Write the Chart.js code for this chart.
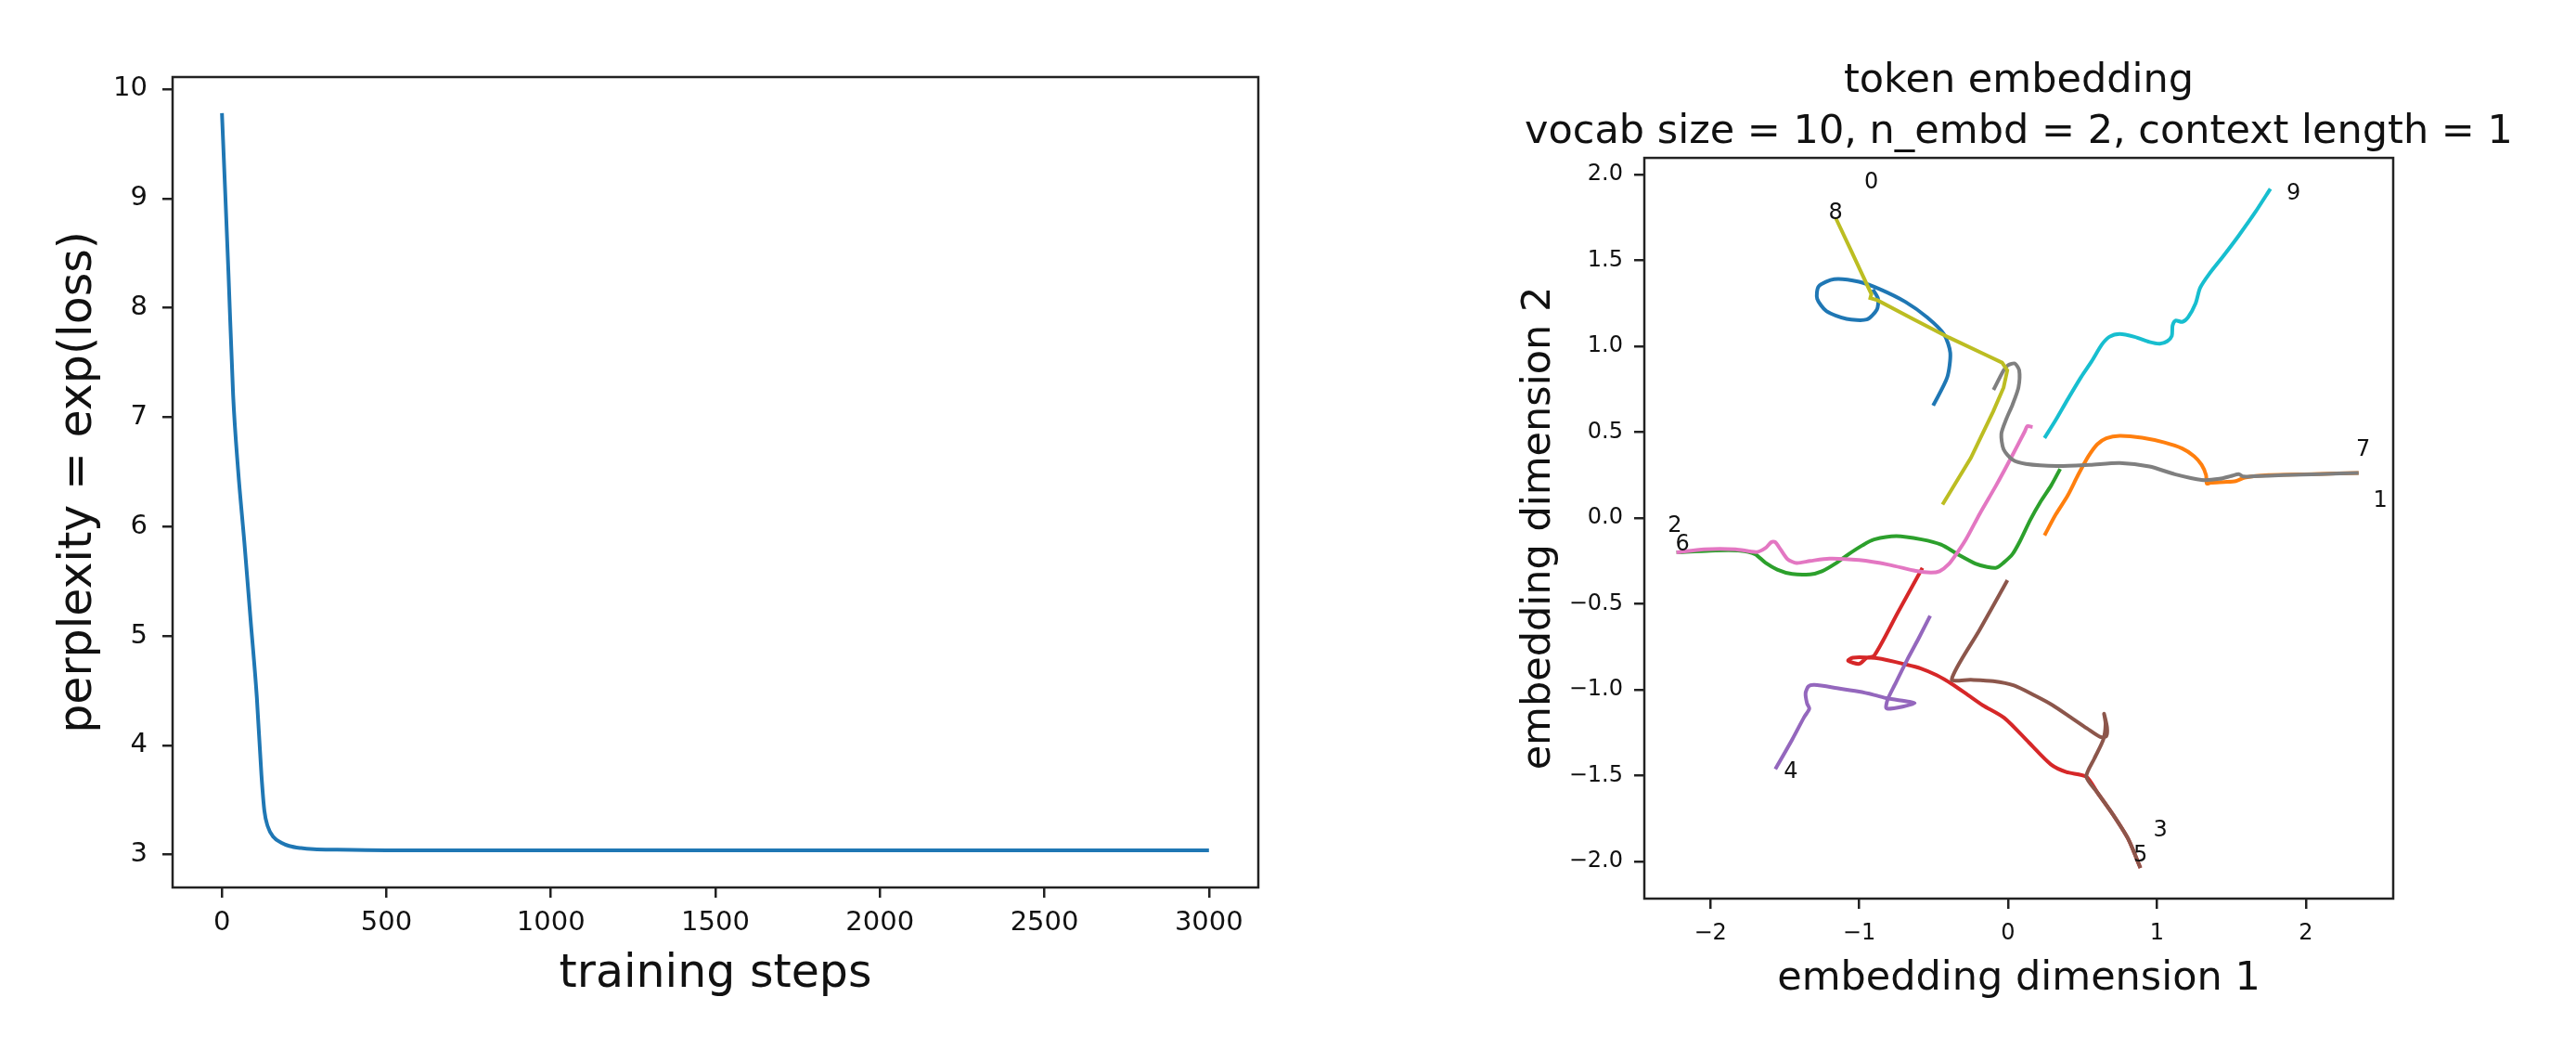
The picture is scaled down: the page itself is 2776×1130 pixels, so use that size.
<!DOCTYPE html>
<html>
<head>
<meta charset="utf-8">
<script src="https://cdn.jsdelivr.net/npm/chart.js@4"></script>
<style>
  body { margin: 0; background: #fff; width: 2776px; height: 1130px; overflow: hidden; position: relative; }
  canvas { position: absolute; top: 0; }
  #lossChart { left: 0; width: 1480px; height: 1130px; }
  #embChart { left: 1480px; width: 1391px; height: 1130px; }
</style>
</head>
<body>
<canvas id="lossChart" width="1480" height="1130"></canvas>
<canvas id="embChart" width="1391" height="1130"></canvas>
<script>
// left panel: perplexity during training
const steps = [0, 10, 20, 34, 49, 68, 87, 106, 120, 129, 139, 157, 180, 204, 240, 279, 350, 500, 1000, 1500, 2000, 2500, 3000];
const perplexity = [9.78, 9.05, 8.30, 7.20, 6.52, 5.86, 5.15, 4.44, 3.73, 3.40, 3.26, 3.16, 3.11, 3.08, 3.06, 3.05, 3.045, 3.04, 3.04, 3.04, 3.04, 3.04, 3.04];
const stepTicks = [0, 500, 1000, 1500, 2000, 2500, 3000];
const perplexityTicks = [3, 4, 5, 6, 7, 8, 9, 10];

// right panel: embedding trajectories, one per token
const emb0 = [[-0.503, 0.655], [-0.409, 0.818], [-0.388, 0.962], [-0.430, 1.070], [-0.544, 1.169], [-0.690, 1.259], [-0.856, 1.331], [-1.001, 1.376], [-1.168, 1.391], [-1.272, 1.349], [-1.282, 1.277], [-1.220, 1.205], [-1.085, 1.160], [-0.949, 1.156], [-0.881, 1.214], [-0.873, 1.277], [-0.908, 1.331]];
const emb1 = [[0.245, -0.101], [0.32, 0.02], [0.40, 0.13], [0.47, 0.25], [0.54, 0.36], [0.60, 0.43], [0.66, 0.465], [0.75, 0.479], [0.90, 0.468], [1.05, 0.44], [1.17, 0.405], [1.25, 0.36], [1.30, 0.31], [1.33, 0.25], [1.335, 0.20], [1.36, 0.205], [1.45, 0.21], [1.53, 0.215], [1.59, 0.235], [1.75, 0.250], [2.05, 0.256], [2.355, 0.263]];
const emb2 = [[0.35, 0.286], [0.29, 0.19], [0.22, 0.097], [0.15, -0.01], [0.08, -0.135], [0.03, -0.21], [-0.03, -0.26], [-0.08, -0.29], [-0.14, -0.285], [-0.22, -0.265], [-0.34, -0.21], [-0.45, -0.155], [-0.58, -0.125], [-0.75, -0.105], [-0.90, -0.125], [-0.98, -0.16], [-1.07, -0.21], [-1.15, -0.26], [-1.25, -0.31], [-1.33, -0.328], [-1.45, -0.326], [-1.55, -0.30], [-1.63, -0.26], [-1.70, -0.21], [-1.80, -0.19], [-2.00, -0.19], [-2.227, -0.20]];
const emb3 = [[-0.575, -0.29], [-0.74, -0.55], [-0.898, -0.80], [-0.95, -0.815], [-1.00, -0.849], [-1.074, -0.831], [-1.043, -0.813], [-0.95, -0.812], [-0.85, -0.82], [-0.70, -0.85], [-0.586, -0.876], [-0.48, -0.915], [-0.378, -0.966], [-0.27, -1.03], [-0.17, -1.09], [-0.025, -1.164], [0.141, -1.308], [0.287, -1.434], [0.391, -1.479], [0.526, -1.506], [0.599, -1.597], [0.702, -1.723], [0.806, -1.867], [0.889, -2.038]];
const emb4 = [[-0.523, -0.569], [-0.60, -0.70], [-0.68, -0.83], [-0.76, -0.97], [-0.81, -1.06], [-0.815, -1.11], [-0.627, -1.078], [-0.81, -1.05], [-0.90, -1.03], [-1.00, -1.011], [-1.15, -0.99], [-1.30, -0.972], [-1.34, -0.98], [-1.36, -1.02], [-1.35, -1.08], [-1.335, -1.11], [-1.37, -1.16], [-1.45, -1.29], [-1.563, -1.462]];
const emb5 = [[-0.004, -0.362], [-0.19, -0.65], [-0.378, -0.939], [-0.25, -0.942], [-0.10, -0.95], [0.04, -0.975], [0.183, -1.035], [0.30, -1.09], [0.42, -1.16], [0.53, -1.225], [0.62, -1.275], [0.66, -1.27], [0.665, -1.22], [0.645, -1.14], [0.655, -1.20], [0.64, -1.29], [0.58, -1.40], [0.526, -1.506], [0.599, -1.597], [0.702, -1.723], [0.806, -1.867], [0.889, -2.038]];
const emb6 = [[0.165, 0.53], [0.13, 0.535], [0.11, 0.50], [0.02, 0.35], [-0.08, 0.19], [-0.19, 0.025], [-0.28, -0.12], [-0.34, -0.20], [-0.40, -0.27], [-0.46, -0.31], [-0.52, -0.318], [-0.62, -0.308], [-0.80, -0.272], [-1.00, -0.245], [-1.20, -0.236], [-1.33, -0.25], [-1.42, -0.262], [-1.48, -0.24], [-1.53, -0.18], [-1.565, -0.14], [-1.59, -0.14], [-1.63, -0.175], [-1.69, -0.198], [-1.83, -0.182], [-2.04, -0.182], [-2.227, -0.20]];
const emb7 = [[-0.098, 0.746], [-0.03, 0.86], [0.0, 0.89], [0.045, 0.90], [0.075, 0.86], [0.07, 0.76], [0.03, 0.66], [-0.01, 0.58], [-0.045, 0.49], [-0.03, 0.40], [0.03, 0.34], [0.12, 0.315], [0.33, 0.303], [0.55, 0.31], [0.75, 0.32], [0.95, 0.30], [1.12, 0.255], [1.30, 0.222], [1.42, 0.228], [1.50, 0.245], [1.55, 0.255], [1.58, 0.242], [1.65, 0.243], [1.85, 0.250], [2.10, 0.256], [2.355, 0.263]];
const emb8 = [[-1.157, 1.746], [-1.05, 1.55], [-0.918, 1.304], [-0.925, 1.28], [-0.877, 1.268], [-0.64, 1.16], [-0.399, 1.052], [-0.15, 0.95], [-0.04, 0.905], [-0.005, 0.86], [-0.03, 0.76], [-0.10, 0.62], [-0.25, 0.35], [-0.44, 0.079]];
const emb9 = [[0.245, 0.466], [0.32, 0.57], [0.40, 0.69], [0.49, 0.82], [0.56, 0.91], [0.63, 1.01], [0.68, 1.055], [0.75, 1.072], [0.85, 1.055], [0.95, 1.025], [1.02, 1.015], [1.07, 1.03], [1.10, 1.06], [1.105, 1.12], [1.125, 1.15], [1.17, 1.142], [1.21, 1.17], [1.26, 1.25], [1.29, 1.34], [1.35, 1.42], [1.45, 1.53], [1.55, 1.645], [1.66, 1.78], [1.762, 1.917]];

const tokenLabels = ['0', '1', '2', '3', '4', '5', '6', '7', '8', '9'];
const labelX = [-0.918, 2.50, -2.238, 1.024, -1.459, 0.889, -2.186, 2.386, -1.158, 1.918];
const labelY = [1.953, 0.097, -0.047, -1.822, -1.479, -1.966, -0.155, 0.395, 1.773, 1.890];
const dimTicks1 = [-2, -1, 0, 1, 2];
const dimTicks2 = [-2.0, -1.5, -1.0, -0.5, 0.0, 0.5, 1.0, 1.5, 2.0];

const tab10 = ['#1f77b4', '#ff7f0e', '#2ca02c', '#d62728', '#9467bd', '#8c564b', '#e377c2', '#7f7f7f', '#bcbd22', '#17becf'];
const paths = [emb0, emb1, emb2, emb3, emb4, emb5, emb6, emb7, emb8, emb9];

Chart.defaults.font.family = 'DejaVu Sans';
Chart.defaults.color = '#111';

const frame = {
    id: 'frame',
    afterDatasetsDraw(chart) {
        const { ctx, chartArea: a } = chart;
        ctx.save();
        ctx.strokeStyle = '#222';
        ctx.lineWidth = 2.5;
        ctx.strokeRect(a.left, a.top, a.right - a.left, a.bottom - a.top);
        ctx.restore();
    }
};

const tokenText = {
    id: 'tokenText',
    afterDatasetsDraw(chart) {
        const { ctx, scales: { x, y } } = chart;
        ctx.save();
        ctx.font = '24px "DejaVu Sans"';
        ctx.fillStyle = '#111';
        ctx.textAlign = 'center';
        ctx.textBaseline = 'middle';
        tokenLabels.forEach((t, i) => {
            ctx.fillText(t, x.getPixelForValue(labelX[i]), y.getPixelForValue(labelY[i]));
        });
        ctx.restore();
    }
};

const tickGrid = { drawOnChartArea: false, drawTicks: true, tickLength: 11, color: '#222', lineWidth: 2.5 };
const minus = v => (v < 0 ? '\u2212' : '') + Math.abs(v);

new Chart(document.getElementById('lossChart'), {
    type: 'scatter',
    data: {
        datasets: [{
            data: steps.map((s, i) => ({ x: s, y: perplexity[i] })),
            showLine: true,
            borderColor: '#1f77b4',
            borderWidth: 4,
            pointRadius: 0,
            cubicInterpolationMode: 'monotone'
        }]
    },
    options: {
        responsive: false,
        animation: false,
        layout: { padding: { left: 0, top: 83, right: 124, bottom: 0 } },
        plugins: { legend: { display: false }, tooltip: { enabled: false } },
        scales: {
            x: {
                type: 'linear', min: -150, max: 3150,
                afterBuildTicks: s => { s.ticks = stepTicks.map(v => ({ value: v })); },
                afterFit: s => { s.height = 174; },
                ticks: { font: { size: 29 }, padding: 10, maxRotation: 0, autoSkip: false, callback: v => String(v) },
                grid: tickGrid,
                border: { display: false },
                title: { display: true, text: 'training steps', font: { size: 49 }, padding: { top: 0, bottom: 50 } }
            },
            y: {
                type: 'linear', min: 2.70, max: 10.11,
                afterBuildTicks: s => { s.ticks = perplexityTicks.map(v => ({ value: v })); },
                afterFit: s => { s.width = 186; },
                ticks: { font: { size: 29 }, padding: 16, autoSkip: false, callback: v => String(v) },
                grid: tickGrid,
                border: { display: false },
                title: { display: true, text: 'perplexity = exp(loss)', font: { size: 49 }, padding: { top: 56, bottom: 0 } }
            }
        }
    },
    plugins: [frame]
});

new Chart(document.getElementById('embChart'), {
    type: 'scatter',
    data: {
        datasets: paths.map((p, i) => ({
            data: p.map(([x, y]) => ({ x, y })),
            showLine: true,
            borderColor: tab10[i],
            borderWidth: 4,
            pointRadius: 0,
            tension: (i === 8) ? 0 : 0.25,
            order: 9 - i
        }))
    },
    options: {
        responsive: false,
        animation: false,
        layout: { padding: { left: 0, top: 60, right: 0, bottom: 0 } },
        plugins: {
            legend: { display: false },
            tooltip: { enabled: false },
            title: {
                display: true,
                text: ['token embedding', 'vocab size = 10, n_embd = 2, context length = 1'],
                font: { size: 43, weight: 'normal', lineHeight: 1.28 },
                color: '#111',
                padding: { top: 0, bottom: 0 }
            }
        },
        scales: {
            x: {
                type: 'linear', min: -2.443, max: 2.587,
                afterBuildTicks: s => { s.ticks = dimTicks1.map(v => ({ value: v })); },
                afterFit: s => { s.height = 162; },
                ticks: { font: { size: 24 }, padding: 12, maxRotation: 0, autoSkip: false, callback: v => minus(v) },
                grid: tickGrid,
                border: { display: false },
                title: { display: true, text: 'embedding dimension 1', font: { size: 43 }, padding: { top: 0, bottom: 49 } }
            },
            y: {
                type: 'linear', min: -2.216, max: 2.097,
                afterBuildTicks: s => { s.ticks = dimTicks2.map(v => ({ value: v })); },
                afterFit: s => { s.width = 292; },
                ticks: { font: { size: 24 }, padding: 12, autoSkip: false, callback: v => (v < 0 ? '\u2212' : '') + Math.abs(v).toFixed(1) },
                grid: tickGrid,
                border: { display: false },
                title: { display: true, text: 'embedding dimension 2', font: { size: 43 }, padding: { top: 153, bottom: 0 } }
            },
            // empty right-hand box so the title centres over the plot
            spacer: {
                type: 'linear', position: 'right',
                afterFit: s => { s.width = 292; },
                ticks: { display: false },
                grid: { display: false },
                border: { display: false }
            }
        }
    },
    plugins: [frame, tokenText]
});
</script>
</body>
</html>
